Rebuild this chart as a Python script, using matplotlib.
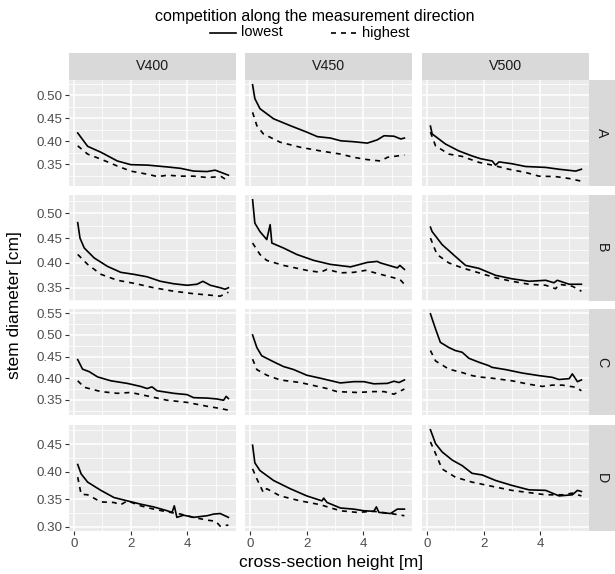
import matplotlib
matplotlib.use("Agg")
import matplotlib.pyplot as plt
from matplotlib.lines import Line2D
from matplotlib.ticker import MultipleLocator, FormatStrFormatter

plt.rcParams['font.family'] = ['Liberation Sans', 'DejaVu Sans']

# facet labels
rows = ['A', 'B', 'C', 'D']
cols = ['V400', 'V450', 'V500']
legend_labels = ['lowest', 'highest']

# (cross-section height [m], stem diameter [cm])
A_V400_lowest = [(0.13, 0.418), (0.48, 0.389), (0.95, 0.376), (1.53, 0.357), (2.0, 0.349), (2.6, 0.348),
                 (3.3, 0.344), (3.76, 0.341), (4.22, 0.335), (4.7, 0.334), (4.98, 0.337), (5.2, 0.332), (5.45, 0.326)]
A_V400_highest = [(0.13, 0.390), (0.48, 0.372), (0.95, 0.361), (1.53, 0.346), (2.0, 0.335), (2.6, 0.328),
                  (2.95, 0.323), (3.3, 0.326), (3.76, 0.324), (4.22, 0.324), (4.7, 0.321), (5.2, 0.323), (5.45, 0.313)]
A_V450_lowest = [(0.09, 0.523), (0.17, 0.493), (0.35, 0.471), (0.83, 0.449), (1.42, 0.434), (2.0, 0.420),
                 (2.38, 0.410), (2.84, 0.407), (3.2, 0.401), (3.66, 0.399), (4.14, 0.396), (4.49, 0.403),
                 (4.73, 0.412), (5.08, 0.411), (5.32, 0.405), (5.45, 0.407)]
A_V450_highest = [(0.09, 0.463), (0.24, 0.434), (0.47, 0.416), (1.06, 0.398), (1.77, 0.387), (2.48, 0.379),
                  (3.2, 0.372), (3.66, 0.365), (4.14, 0.360), (4.61, 0.357), (4.85, 0.365), (5.2, 0.368), (5.45, 0.370)]
A_V500_lowest = [(0.12, 0.433), (0.18, 0.416), (0.65, 0.394), (1.12, 0.379), (1.59, 0.368), (1.89, 0.362),
                 (2.3, 0.357), (2.42, 0.348), (2.54, 0.355), (3.0, 0.351), (3.48, 0.345), (4.19, 0.343),
                 (4.66, 0.339), (5.25, 0.335), (5.45, 0.339)]
A_V500_highest = [(0.12, 0.420), (0.3, 0.390), (0.77, 0.372), (1.24, 0.367), (1.83, 0.354), (2.3, 0.348),
                  (2.89, 0.339), (3.48, 0.332), (3.95, 0.324), (4.54, 0.323), (5.0, 0.319), (5.45, 0.313)]

B_V400_lowest = [(0.13, 0.481), (0.21, 0.450), (0.36, 0.430), (0.71, 0.410), (1.18, 0.393), (1.65, 0.381),
                 (2.11, 0.377), (2.58, 0.372), (3.05, 0.363), (3.52, 0.358), (3.99, 0.355), (4.34, 0.357),
                 (4.55, 0.363), (4.81, 0.355), (5.16, 0.350), (5.33, 0.347), (5.45, 0.350)]
B_V400_highest = [(0.13, 0.417), (0.48, 0.397), (0.95, 0.377), (1.53, 0.365), (2.11, 0.359), (2.81, 0.350),
                  (3.52, 0.343), (4.22, 0.338), (4.81, 0.335), (5.16, 0.333), (5.45, 0.341)]
B_V450_lowest = [(0.09, 0.527), (0.17, 0.480), (0.35, 0.463), (0.59, 0.447), (0.71, 0.477), (0.77, 0.440),
                 (1.18, 0.430), (1.65, 0.417), (2.25, 0.405), (2.84, 0.397), (3.55, 0.392), (4.14, 0.401),
                 (4.49, 0.403), (4.6, 0.400), (5.2, 0.390), (5.29, 0.395), (5.45, 0.387)]
B_V450_highest = [(0.09, 0.440), (0.35, 0.417), (0.59, 0.405), (1.18, 0.395), (2.0, 0.385), (2.48, 0.381),
                  (2.72, 0.387), (3.19, 0.380), (3.66, 0.381), (4.08, 0.385), (4.61, 0.377), (5.08, 0.370),
                  (5.32, 0.365), (5.45, 0.357)]
B_V500_lowest = [(0.12, 0.472), (0.18, 0.463), (0.53, 0.437), (1.0, 0.413), (1.36, 0.395), (1.83, 0.389),
                 (2.42, 0.375), (3.0, 0.368), (3.6, 0.363), (4.19, 0.365), (4.48, 0.360), (4.6, 0.365),
                 (5.02, 0.357), (5.45, 0.357)]
B_V500_highest = [(0.12, 0.450), (0.35, 0.417), (0.77, 0.400), (1.24, 0.390), (1.83, 0.380), (2.42, 0.370),
                  (3.0, 0.363), (3.6, 0.357), (4.19, 0.355), (4.54, 0.348), (4.66, 0.357), (5.13, 0.353), (5.45, 0.343)]

C_V400_lowest = [(0.13, 0.443), (0.3, 0.421), (0.54, 0.415), (0.83, 0.403), (1.3, 0.394), (1.88, 0.388),
                 (2.35, 0.381), (2.58, 0.376), (2.75, 0.380), (2.93, 0.371), (3.52, 0.365), (3.99, 0.362),
                 (4.22, 0.355), (4.7, 0.354), (5.04, 0.352), (5.28, 0.349), (5.37, 0.358), (5.45, 0.353)]
C_V400_highest = [(0.13, 0.394), (0.36, 0.379), (0.95, 0.369), (1.53, 0.365), (2.0, 0.367), (2.58, 0.359),
                  (3.29, 0.349), (3.99, 0.344), (4.7, 0.335), (5.16, 0.330), (5.45, 0.326)]
C_V450_lowest = [(0.09, 0.500), (0.24, 0.471), (0.41, 0.452), (0.83, 0.438), (1.18, 0.427), (1.54, 0.420),
                 (2.0, 0.407), (2.48, 0.400), (3.19, 0.389), (3.66, 0.392), (4.02, 0.392), (4.37, 0.387),
                 (4.85, 0.388), (5.08, 0.393), (5.26, 0.390), (5.45, 0.396)]
C_V450_highest = [(0.09, 0.444), (0.24, 0.420), (0.59, 0.407), (1.06, 0.396), (1.77, 0.390), (2.25, 0.383),
                  (2.72, 0.376), (3.07, 0.369), (3.78, 0.367), (4.37, 0.369), (4.73, 0.369), (5.08, 0.363), (5.45, 0.375)]
C_V500_lowest = [(0.12, 0.549), (0.3, 0.514), (0.47, 0.483), (0.77, 0.471), (1.0, 0.464), (1.24, 0.460),
                 (1.48, 0.446), (1.83, 0.437), (2.18, 0.429), (2.3, 0.425), (2.77, 0.420), (3.36, 0.412),
                 (3.95, 0.406), (4.42, 0.402), (4.66, 0.397), (5.02, 0.399), (5.13, 0.410), (5.31, 0.392), (5.45, 0.396)]
C_V500_highest = [(0.12, 0.464), (0.3, 0.440), (0.77, 0.421), (1.24, 0.413), (1.59, 0.406), (1.83, 0.403),
                  (2.3, 0.400), (3.0, 0.394), (3.6, 0.386), (4.07, 0.381), (4.42, 0.384), (4.78, 0.384),
                  (5.25, 0.379), (5.45, 0.371)]

D_V400_lowest = [(0.13, 0.413), (0.25, 0.396), (0.48, 0.381), (0.95, 0.366), (1.41, 0.353), (1.88, 0.347),
                 (2.35, 0.341), (2.81, 0.336), (3.29, 0.329), (3.46, 0.326), (3.54, 0.338), (3.63, 0.317),
                 (3.87, 0.321), (4.22, 0.317), (4.7, 0.320), (4.93, 0.323), (5.16, 0.324), (5.45, 0.317)]
D_V400_highest = [(0.13, 0.390), (0.25, 0.359), (0.48, 0.358), (0.95, 0.345), (1.41, 0.344), (1.65, 0.340),
                  (1.88, 0.347), (2.35, 0.338), (2.81, 0.332), (3.29, 0.327), (3.76, 0.323), (4.22, 0.317),
                  (4.7, 0.312), (5.0, 0.310), (5.16, 0.301), (5.45, 0.303)]
D_V450_lowest = [(0.09, 0.448), (0.17, 0.416), (0.35, 0.402), (0.83, 0.384), (1.42, 0.369), (2.0, 0.356),
                 (2.54, 0.347), (2.6, 0.352), (2.72, 0.344), (3.19, 0.334), (3.66, 0.332), (4.02, 0.329),
                 (4.37, 0.328), (4.46, 0.336), (4.55, 0.326), (4.96, 0.324), (5.2, 0.332), (5.45, 0.332)]
D_V450_highest = [(0.09, 0.405), (0.24, 0.387), (0.47, 0.362), (0.59, 0.369), (1.06, 0.356), (1.77, 0.347),
                  (2.48, 0.340), (3.19, 0.329), (3.78, 0.326), (4.37, 0.328), (4.96, 0.324), (5.45, 0.320)]
D_V500_lowest = [(0.12, 0.476), (0.3, 0.451), (0.53, 0.436), (0.89, 0.421), (1.24, 0.411), (1.59, 0.397),
                 (1.95, 0.394), (2.42, 0.384), (3.0, 0.375), (3.6, 0.367), (4.19, 0.366), (4.66, 0.356),
                 (5.13, 0.358), (5.31, 0.366), (5.45, 0.364)]
D_V500_highest = [(0.12, 0.454), (0.3, 0.433), (0.53, 0.405), (1.0, 0.390), (1.59, 0.381), (2.42, 0.372),
                  (3.0, 0.366), (3.6, 0.362), (4.19, 0.358), (4.78, 0.358), (5.13, 0.361), (5.45, 0.356)]

series = {
    ('A', 'V400'): (A_V400_lowest, A_V400_highest),
    ('A', 'V450'): (A_V450_lowest, A_V450_highest),
    ('A', 'V500'): (A_V500_lowest, A_V500_highest),
    ('B', 'V400'): (B_V400_lowest, B_V400_highest),
    ('B', 'V450'): (B_V450_lowest, B_V450_highest),
    ('B', 'V500'): (B_V500_lowest, B_V500_highest),
    ('C', 'V400'): (C_V400_lowest, C_V400_highest),
    ('C', 'V450'): (C_V450_lowest, C_V450_highest),
    ('C', 'V500'): (C_V500_lowest, C_V500_highest),
    ('D', 'V400'): (D_V400_lowest, D_V400_highest),
    ('D', 'V450'): (D_V450_lowest, D_V450_highest),
    ('D', 'V500'): (D_V500_lowest, D_V500_highest),
}

W, H = 615, 574
LW = 1.2
DASH = (0, (3, 3))
fig = plt.figure(figsize=(W / 100, H / 100), dpi=100)


def add_px_axes(left, top, w, h):
    return fig.add_axes([left / W, 1 - (top + h) / H, w / W, h / H])


def fx(px):
    return px / W


def fy(px):
    return 1 - px / H


def strip(left, top, w, h, label, rot):
    st = add_px_axes(left, top, w, h)
    st.set_facecolor('#D9D9D9')
    st.set_xticks([])
    st.set_yticks([])
    for sp in st.spines.values():
        sp.set_visible(False)
    st.text(0.5, 0.5, label, ha='center', va='center', rotation=rot, fontsize=10.3,
            color='#1A1A1A', transform=st.transAxes)


col_left = [69, 245, 422]
col_w = 167
row_top = [80, 195, 309, 425]
row_h = 106

# shared x range, free y per row (ggplot style 5% expansion)
all_x = [p[0] for s in series.values() for line in s for p in line]
xr = max(all_x) - min(all_x)
xlim = (min(all_x) - 0.05 * xr, max(all_x) + 0.05 * xr)

for i, r in enumerate(rows):
    ys = [p[1] for c in cols for line in series[(r, c)] for p in line]
    yr = max(ys) - min(ys)
    ylim = (min(ys) - 0.05 * yr, max(ys) + 0.05 * yr)
    for j, c in enumerate(cols):
        ax = add_px_axes(col_left[j], row_top[i], col_w, row_h)
        ax.set_facecolor('#EBEBEB')
        for sp in ax.spines.values():
            sp.set_visible(False)
        low, high = series[(r, c)]
        ax.plot([p[0] for p in low], [p[1] for p in low], color='black', lw=LW, ls='-')
        ax.plot([p[0] for p in high], [p[1] for p in high], color='black', lw=LW, ls=DASH)
        ax.set_xlim(xlim)
        ax.set_ylim(ylim)
        ax.xaxis.set_major_locator(MultipleLocator(2))
        ax.xaxis.set_minor_locator(MultipleLocator(1))
        ax.yaxis.set_major_locator(MultipleLocator(0.05))
        ax.yaxis.set_minor_locator(MultipleLocator(0.025))
        ax.yaxis.set_major_formatter(FormatStrFormatter('%.2f'))
        ax.grid(which='major', color='white', lw=1.1)
        ax.grid(which='minor', color='white', lw=0.55)
        ax.set_axisbelow(True)
        ax.tick_params(which='minor', length=0)
        ax.tick_params(which='major', length=2.75, width=0.8, color='#333333',
                       labelcolor='#4D4D4D', labelsize=9.6, pad=2)
        if j != 0:
            ax.tick_params(axis='y', which='major', length=0, labelleft=False)
        if i != len(rows) - 1:
            ax.tick_params(axis='x', which='major', length=0, labelbottom=False)
        if i == 0:
            strip(col_left[j], 53, col_w, 27, c, 0)
    strip(589, row_top[i], 26, row_h, r, -90)

fig.text(fx(15), fy(305), 'stem diameter [cm]', rotation=90, ha='center', va='center', fontsize=12.5)
fig.text(fx(331), fy(563), 'cross-section height [m]', ha='center', va='center', fontsize=12.5)

# legend drawn at the top, ggplot style
fig.text(fx(315), fy(17), 'competition along the measurement direction', ha='center', va='center',
         fontsize=11.5)
key_x = [(210, 236), (331, 357)]
for (x0, x1), lab, ls in zip(key_x, legend_labels, ['-', DASH]):
    fig.add_artist(Line2D([fx(x0), fx(x1)], [fy(33), fy(33)], color='black', lw=LW, ls=ls))
    fig.text(fx(x1 + 5), fy(32.5), lab, ha='left', va='center', fontsize=10.5)

fig.savefig('out.png', dpi=100)
